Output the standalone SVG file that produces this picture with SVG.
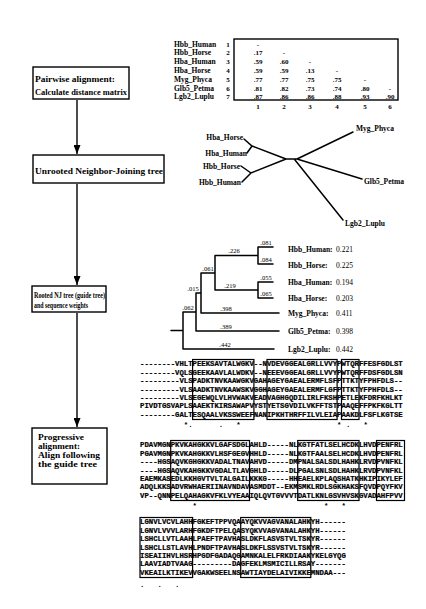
<svg xmlns="http://www.w3.org/2000/svg" width="426" height="609" viewBox="0 0 426 609">
<style>
.box{fill:#fff;stroke:#000;stroke-width:1.4}
.bt{font-family:"Liberation Serif",serif;font-weight:bold;fill:#000}
.lab{font-family:"Liberation Serif",serif;font-weight:bold;font-size:7.5px;fill:#000}
.num{font-family:"Liberation Serif",serif;font-weight:bold;font-size:7px;fill:#000;text-anchor:middle}
.val{font-family:"Liberation Serif",serif;font-size:7.5px;fill:#000}
.bl{font-family:"Liberation Serif",serif;font-size:6.5px;fill:#000;text-anchor:middle}
.aln{font-family:"Liberation Mono",monospace;font-weight:bold;font-size:7.3px;fill:#000;stroke:#000;stroke-width:0.2}
.cons{font-family:"Liberation Mono",monospace;font-weight:bold;font-size:7.3px;fill:#000;text-anchor:middle}
.edge{stroke:#000;stroke-width:1.4;fill:none}
.tree{stroke:#000;stroke-width:1.5;fill:none;stroke-linecap:round}
.hbox{fill:none;stroke:#000;stroke-width:1.2}
</style>
<defs>
<marker id="arr" markerUnits="userSpaceOnUse" markerWidth="9" markerHeight="7" refX="9" refY="3.5" orient="auto">
<path d="M0,0 L9,3.5 L0,7 z" fill="#000"/>
</marker>
</defs>

<g id="connectors">
<line class="edge" x1="77" y1="100" x2="77" y2="154" marker-end="url(#arr)"/>
<line class="edge" x1="77" y1="184" x2="77" y2="285" marker-end="url(#arr)"/>
<line class="edge" x1="77" y1="313" x2="77" y2="427" marker-end="url(#arr)"/>
</g>

<g id="node-pairwise">
<rect class="box" x="33" y="67" width="96" height="32"/>
<text class="bt" x="35" y="82" font-size="8.5" textLength="80" lengthAdjust="spacingAndGlyphs">Pairwise alignment:</text>
<text class="bt" x="35" y="95" font-size="8.5" textLength="92" lengthAdjust="spacingAndGlyphs">Calculate distance matrix</text>
</g>

<g id="node-unrooted">
<rect class="box" x="33" y="155" width="131" height="28"/>
<text class="bt" x="35" y="174" font-size="9" textLength="128" lengthAdjust="spacingAndGlyphs">Unrooted Neighbor-Joining tree</text>
</g>

<g id="node-rooted">
<rect class="box" x="32" y="286" width="74" height="26"/>
<text class="bt" x="34" y="298" font-size="7.5" textLength="71" lengthAdjust="spacingAndGlyphs">Rooted NJ tree (guide tree)</text>
<text class="bt" x="34" y="308" font-size="7.5" textLength="54" lengthAdjust="spacingAndGlyphs">and sequence weights</text>
</g>

<g id="node-progressive">
<rect class="box" x="32" y="428" width="75" height="56"/>
<text class="bt" x="38" y="440" font-size="9" textLength="46" lengthAdjust="spacingAndGlyphs">Progressive</text>
<text class="bt" x="38" y="449" font-size="9" textLength="42" lengthAdjust="spacingAndGlyphs">alignment:</text>
<text class="bt" x="38" y="458" font-size="9" textLength="62" lengthAdjust="spacingAndGlyphs">Align following</text>
<text class="bt" x="38" y="467" font-size="9" textLength="59" lengthAdjust="spacingAndGlyphs">the guide tree</text>
</g>

<g id="distance-matrix">
<rect class="box" x="234" y="39" width="164" height="61"/>
<text class="lab" x="174" y="46.5">Hbb_Human</text>
<text class="lab" x="174" y="55.3">Hbb_Horse</text>
<text class="lab" x="174" y="64.1">Hba_Human</text>
<text class="lab" x="174" y="72.9">Hba_Horse</text>
<text class="lab" x="174" y="81.7">Myg_Phyca</text>
<text class="lab" x="174" y="90.5">Glb5_Petma</text>
<text class="lab" x="174" y="99.3">Lgb2_Luplu</text>
<text class="num" x="228" y="46.5">1</text>
<text class="num" x="228" y="55.3">2</text>
<text class="num" x="228" y="64.1">3</text>
<text class="num" x="228" y="72.9">4</text>
<text class="num" x="228" y="81.7">5</text>
<text class="num" x="228" y="90.5">6</text>
<text class="num" x="228" y="99.3">7</text>
<text class="num" x="258" y="46.5">-</text>
<text class="num" x="258" y="55.3">.17</text><text class="num" x="284" y="55.3">-</text>
<text class="num" x="258" y="64.1">.59</text><text class="num" x="284" y="64.1">.60</text><text class="num" x="310" y="64.1">-</text>
<text class="num" x="258" y="72.9">.59</text><text class="num" x="284" y="72.9">.59</text><text class="num" x="310" y="72.9">.13</text><text class="num" x="337" y="72.9">-</text>
<text class="num" x="258" y="81.7">.77</text><text class="num" x="284" y="81.7">.77</text><text class="num" x="310" y="81.7">.75</text><text class="num" x="337" y="81.7">.75</text><text class="num" x="365" y="81.7">-</text>
<text class="num" x="258" y="90.5">.81</text><text class="num" x="284" y="90.5">.82</text><text class="num" x="310" y="90.5">.73</text><text class="num" x="337" y="90.5">.74</text><text class="num" x="365" y="90.5">.80</text><text class="num" x="390" y="90.5">-</text>
<text class="num" x="258" y="99.3">.87</text><text class="num" x="284" y="99.3">.86</text><text class="num" x="310" y="99.3">.86</text><text class="num" x="337" y="99.3">.88</text><text class="num" x="365" y="99.3">.93</text><text class="num" x="390" y="99.3">.90</text>
<text class="num" x="258" y="109">1</text>
<text class="num" x="284" y="109">2</text>
<text class="num" x="310" y="109">3</text>
<text class="num" x="337" y="109">4</text>
<text class="num" x="365" y="109">5</text>
<text class="num" x="390" y="109">6</text>
</g>

<g id="unrooted-tree">
<path class="tree" d="M286,159 L297,159 M286,159 L252,146 L244,139 M252,146 L247,153 M286,159 L251,173 L241,166 M251,173 L242,182 M297,159 L353,132 M297,159 L362,179 M295,160 L343,220"/>
<text class="lab" x="243" y="140" text-anchor="end">Hba_Horse</text>
<text class="lab" x="247" y="156" text-anchor="end">Hba_Human</text>
<text class="lab" x="240" y="169" text-anchor="end">Hbb_Horse</text>
<text class="lab" x="241" y="185" text-anchor="end">Hbb_Human</text>
<text class="lab" x="356" y="131">Myg_Phyca</text>
<text class="lab" x="364" y="184">Glb5_Petma</text>
<text class="lab" x="345" y="226">Lgb2_Luplu</text>
</g>

<g id="rooted-tree">
<path class="tree" d="M171,330.5 L183,330.5 M183,312 L183,349 M183,312 L196,312 M183,349 L274,349 M196,293 L196,331 M196,331 L279,331 M196,293 L201,293 M201,273 L201,313 M201,313 L279,313 M201,273 L215,273 M215,255.5 L215,290 M215,255.5 L258,255.5 M215,290 L258,290 M258,247 L258,264 M258,247 L273,247 M258,264 L273,264 M258,282 L258,298 M258,282 L273,282 M258,298 L273,298"/>
<text class="bl" x="266" y="245">.081</text>
<text class="bl" x="266" y="262">.084</text>
<text class="bl" x="266" y="280">.055</text>
<text class="bl" x="266" y="296">.065</text>
<text class="bl" x="234" y="253">.226</text>
<text class="bl" x="230" y="288">.219</text>
<text class="bl" x="208" y="271">.061</text>
<text class="bl" x="193" y="291">.015</text>
<text class="bl" x="188" y="310">.062</text>
<text class="bl" x="226" y="311">.398</text>
<text class="bl" x="226" y="329">.389</text>
<text class="bl" x="225" y="347">.442</text>
<text class="lab" x="288" y="252">Hbb_Human:</text>
<text class="lab" x="288" y="268">Hbb_Horse:</text>
<text class="lab" x="288" y="285">Hba_Human:</text>
<text class="lab" x="288" y="301">Hba_Horse:</text>
<text class="lab" x="288" y="316">Myg_Phyca:</text>
<text class="lab" x="288" y="334">Glb5_Petma:</text>
<text class="lab" x="288" y="352">Lgb2_Luplu:</text>
<text class="val" x="336" y="252">0.221</text>
<text class="val" x="336" y="268">0.225</text>
<text class="val" x="336" y="285">0.194</text>
<text class="val" x="336" y="301">0.203</text>
<text class="val" x="336" y="316">0.411</text>
<text class="val" x="336" y="334">0.398</text>
<text class="val" x="336" y="352">0.442</text>
</g>

<g id="alignment">
<g id="block1">
<text class="aln" x="140" y="366.4">--------VHLTPEEKSAVTALWGKV--NVDEVGGEALGRLLVVYPWTQRFFESFGDLST</text>
<text class="aln" x="140" y="374.8">--------VQLSGEEKAAVLALWDKV--NEEEVGGEALGRLLVVYPWTQRFFDSFGDLSN</text>
<text class="aln" x="140" y="383.2">---------VLSPADKTNVKAAWGKVGAHAGEYGAEALERMFLSFPTTKTYFPHFDLS--</text>
<text class="aln" x="140" y="391.6">---------VLSAADKTNVKAAWSKVGGHAGEYGAEALERMFLGFPTTKTYFPHFDLS--</text>
<text class="aln" x="140" y="400">---------VLSEGEWQLVLHVWAKVEADVAGHGQDILIRLFKSHPETLEKFDRFKHLKT</text>
<text class="aln" x="140" y="408.4">PIVDTGSVAPLSAAEKTKIRSAWAPVYSTYETSGVDILVKFFTSTPAAQEFFPKFKGLTT</text>
<text class="aln" x="140" y="416.8">--------GALTESQAALVKSSWEEFNANIPKHTHRFFILVLEIAPAAKDLFSFLKGTSE</text>
<rect class="hbox" x="192.6" y="359.5" width="61.3" height="60"/>
<rect class="hbox" x="267" y="359.5" width="70.1" height="60"/>
<rect class="hbox" x="341.5" y="359.5" width="17.5" height="60"/>
<text class="cons" x="186" y="427">*</text><text class="cons" x="190.4" y="427">.</text><text class="cons" x="221" y="427">.</text><text class="cons" x="238.5" y="427">*</text><text class="cons" x="339.3" y="427">*</text><text class="cons" x="348.1" y="427">.</text><text class="cons" x="365.6" y="427">*</text>
</g>
<g id="block2">
<text class="aln" x="140" y="447.4">PDAVMGNPKVKAHGKKVLGAFSDGLAHLD-----NLKGTFATLSELHCDKLHVDPENFRL</text>
<text class="aln" x="140" y="455.8">PGAVMGNPKVKAHGKKVLHSFGEGVHHLD-----NLKGTFAALSELHCDKLHVDPENFRL</text>
<text class="aln" x="140" y="464.2">----HGSAQVKGHGKKVADALTNAVAHVD-----DMPNALSALSDLHAHKLRVDPVNFKL</text>
<text class="aln" x="140" y="472.6">----HGSAQVKAHGKKVGDALTLAVGHLD-----DLPGALSNLSDLHAHKLRVDPVNFKL</text>
<text class="aln" x="140" y="481">EAEMKASEDLKKHGVTVLTALGAILKKKG-----HHEAELKPLAQSHATKHKIPIKYLEF</text>
<text class="aln" x="140" y="489.4">ADQLKKSADVRWHAERIINAVNDAVASMDDT--EKMSMKLRDLSGKHAKSFQVDPQYFKV</text>
<text class="aln" x="140" y="497.8">VP--QNNPELQAHAGKVFKLVYEAAIQLQVTGVVVTDATLKNLGSVHVSKGVADAHFPVV</text>
<rect class="hbox" x="170.7" y="440.5" width="78.8" height="60"/>
<rect class="hbox" x="297.7" y="440.5" width="61.3" height="60"/>
<rect class="hbox" x="376.5" y="440.5" width="28" height="60"/>
<text class="cons" x="194.8" y="508">*</text><text class="cons" x="326.1" y="508">*</text><text class="cons" x="343.6" y="508">*</text>
</g>
<g id="block3">
<text class="aln" x="140" y="524.4">LGNVLVCVLAHHFGKEFTPPVQAAYQKVVAGVANALAHKYH------</text>
<text class="aln" x="140" y="532.8">LGNVLVVVLARHFGKDFTPELQASYQKVVAGVANALAHKYH------</text>
<text class="aln" x="140" y="541.2">LSHCLLVTLAAHLPAEFTPAVHASLDKFLASVSTVLTSKYR------</text>
<text class="aln" x="140" y="549.6">LSHCLLSTLAVHLPNDFTPAVHASLDKFLSSVSTVLTSKYR------</text>
<text class="aln" x="140" y="558">ISEAIIHVLHSRHPGDFGADAQGAMNKALELFRKDIAAKYKELGYQG</text>
<text class="aln" x="140" y="566.4">LAAVIADTVAAG---------DAGFEKLMSMICILLRSAY-------</text>
<text class="aln" x="140" y="574.8">VKEAILKTIKEVVGAKWSEELNSAWTIAYDELAIVIKKEMNDAA---</text>
<rect class="hbox" x="140" y="517.5" width="52.6" height="60"/>
<rect class="hbox" x="240.7" y="517.5" width="70.1" height="60"/>
<text class="cons" x="142.2" y="587">.</text><text class="cons" x="159.7" y="587">.</text><text class="cons" x="177.2" y="587">.</text>
</g>
</g>
</svg>
